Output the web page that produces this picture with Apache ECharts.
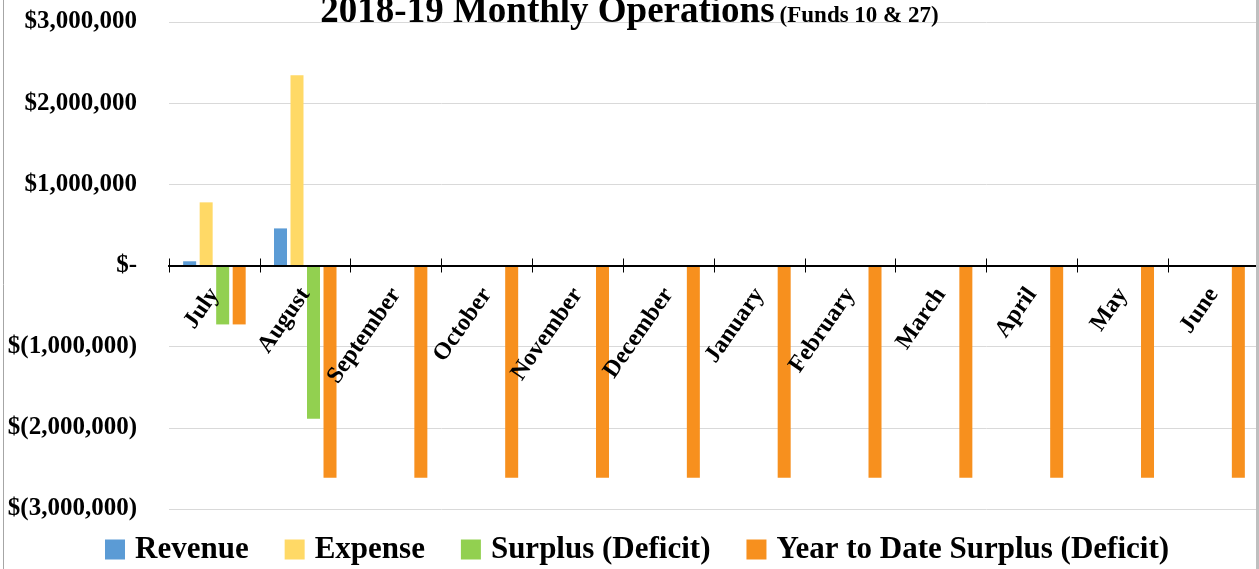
<!DOCTYPE html>
<html>
<head>
<meta charset="utf-8">
<script src="https://cdn.jsdelivr.net/npm/echarts@6/dist/echarts.min.js"></script>
<style>
html,body{margin:0;padding:0;background:#fff;}
#chart{width:1259px;height:569px;}
</style>
</head>
<body>
<div id="chart"></div>
<script>
var categories = ['July','August','September','October','November','December','January','February','March','April','May','June'];
var revenue = [52000, 457000, null, null, null, null, null, null, null, null, null, null];
var expense = [778000, 2345000, null, null, null, null, null, null, null, null, null, null];
var surplus = [-726000, -1888000, null, null, null, null, null, null, null, null, null, null];
var ytdSurplus = [-726000, -2614000, -2614000, -2614000, -2614000, -2614000, -2614000, -2614000, -2614000, -2614000, -2614000, -2614000];
var seriesNames = ['Revenue','Expense','Surplus (Deficit)','Year to Date Surplus (Deficit)'];
var colors = ['#5B9BD5','#FFD966','#92D050','#F7901E'];

var serif = '"Liberation Serif", "DejaVu Serif", serif';
function fmt(v){
  if (v === 0) return '$-';
  var s = Math.abs(v).toLocaleString('en-US');
  return v < 0 ? '$(' + s + ')' : '$' + s;
}
var chart = echarts.init(document.getElementById('chart'));
var data = [revenue, expense, surplus, ytdSurplus];
var series = data.map(function(d, i){
  return {
    name: seriesNames[i], type: 'bar', data: d, barWidth: 13, barGap: '27%',
    itemStyle: {color: colors[i]}
  };
});
var zeroOffset = -243.5;
chart.setOption({
  animation: false,
  color: colors,
  title: {
    left: 'center', top: -11,
    text: '{a|2018-19 Monthly Operations} {b|(Funds 10 & 27)}',
    textStyle: {
      rich: {
        a: {fontFamily: serif, fontWeight: 'bold', fontSize: 37, color: '#000'},
        b: {fontFamily: serif, fontWeight: 'bold', fontSize: 23, color: '#000', padding: [7,0,0,0]}
      }
    }
  },
  legend: {
    bottom: -1, left: 100, itemWidth: 20, itemHeight: 20, itemGap: 36,
    icon: 'rect',
    textStyle: {fontFamily: serif, fontWeight: 'bold', fontSize: 31, color: '#000', padding: [0,0,0,5]},
    data: seriesNames
  },
  grid: {left: 169, width: 1090, top: 22, height: 487, containLabel: false, outerBoundsMode: 'none'},
  xAxis: [{
    type: 'category', data: categories, position: 'bottom', offset: zeroOffset, z: 5,
    axisLine: {onZero: false, lineStyle: {color: '#000', width: 2}},
    axisTick: {show: true, length: 7, lineStyle: {color: '#000', width: 1}},
    axisLabel: {rotate: 55, margin: 25, fontFamily: serif, fontWeight: 'bold', fontSize: 24, color: '#000'}
  },{
    type: 'category', data: categories, position: 'bottom', offset: zeroOffset, z: 5,
    axisLine: {onZero: false, lineStyle: {color: '#000', width: 2}},
    axisTick: {show: true, inside: true, length: 7, lineStyle: {color: '#000', width: 1}},
    axisLabel: {show: false}
  }],
  yAxis: {
    type: 'value', min: -3000000, max: 3000000, interval: 1000000,
    axisLine: {show: false}, axisTick: {show: false},
    splitLine: {lineStyle: {color: '#d9d9d9', width: 1}},
    axisLabel: {margin: 32, formatter: fmt, fontFamily: serif, fontWeight: 'bold', fontSize: 25, color: '#000'}
  },
  graphic: [
    {type: 'line', shape: {x1: 3.5, y1: 0, x2: 3.5, y2: 569}, style: {stroke: '#a6a6a6', lineWidth: 1}, z: 100},
    {type: 'rect', shape: {x: 1256, y: 0, width: 3, height: 569}, style: {fill: '#bfbfbf'}, z: 100}
  ],
  series: series
});
</script>
</body>
</html>
